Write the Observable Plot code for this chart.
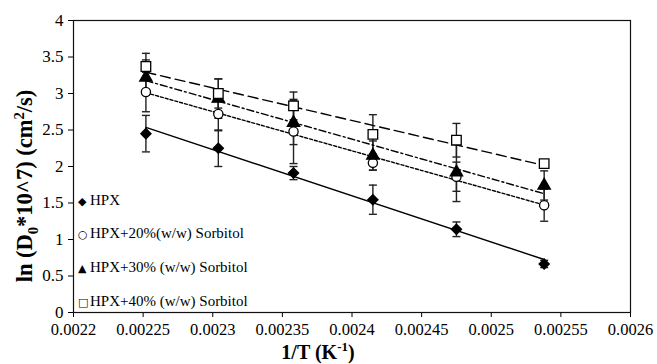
<!DOCTYPE html>
<html>
<head>
<meta charset="utf-8">
<script src="https://cdn.jsdelivr.net/npm/d3@7"></script>
<script src="https://cdn.jsdelivr.net/npm/@observablehq/plot@0.6"></script>
<style>
  html, body { margin: 0; padding: 0; background: #fff; }
  #wrap { position: relative; width: 657px; height: 364px; font-family: "Liberation Serif", "Times New Roman", serif; color: #000; }
  #legend { position: absolute; left: 78px; top: 0; font-size: 15px; }
  #legend div { position: absolute; white-space: nowrap; line-height: 1; }
  #legend .sym { display: inline-block; width: 12px; font-family: "DejaVu Sans", sans-serif; font-size: 11px; }
  #ytitle { position: absolute; left: 25px; top: 186px; transform: translate(-50%, -50%) rotate(-90deg); font-weight: bold; font-size: 22.5px; white-space: nowrap; }
  #xtitle { position: absolute; left: 318px; top: 352px; transform: translate(-50%, -50%); font-weight: bold; font-size: 20px; white-space: nowrap; }
  sub, sup { font-size: 0.65em; line-height: 0; }
</style>
</head>
<body>
<div id="wrap">
  <div id="chart"></div>
  <div id="legend"></div>
  <div id="ytitle">ln (D<sub>0</sub>*10^7) (cm<sup>2</sup>/s)</div>
  <div id="xtitle">1/T (K<sup>-1</sup>)</div>
</div>
<script>
// ---- data ----
const invT   = [0.002252, 0.002304, 0.002358, 0.002415, 0.002475, 0.002538];
const hpx    = [2.45, 2.25, 1.91, 1.545, 1.14, 0.665];
const hpxErr = [0.25, 0.25, 0.09, 0.20, 0.10, 0.05];
const s20    = [3.02, 2.72, 2.48, 2.05, 1.86, 1.47];
const s20Err = [0.27, 0.23, 0.44, 0.10, 0.20, 0.22];
const s30    = [3.22, 2.93, 2.60, 2.15, 1.92, 1.74];
const s30Err = [0.24, 0.27, 0.30, 0.20, 0.40, 0.20];
const s40    = [3.37, 3.00, 2.83, 2.44, 2.36, 2.04];
const s40Err = [0.18, 0.20, 0.19, 0.27, 0.23, 0.02];
const seriesNames = ["HPX", "HPX+20%(w/w) Sorbitol", "HPX+30% (w/w) Sorbitol", "HPX+40% (w/w) Sorbitol"];
const xTicks = [0.0022, 0.00225, 0.0023, 0.00235, 0.0024, 0.00245, 0.0025, 0.00255, 0.0026];
const yTicks = [0, 0.5, 1, 1.5, 2, 2.5, 3, 3.5, 4];

// ---- styling per series ----
const styles = [
  {symbol: "diamond2", fill: "#000", stroke: "#000", r: 4.6, dash: null, glyph: "\u25C6"},
  {symbol: "circle", fill: "#fff", stroke: "#000", r: 4.6, dash: "3,2", glyph: "\u25CB"},
  {symbol: "triangle", fill: "#000", stroke: "#000", r: 4.6, dash: "7,3,2,3", glyph: "\u25B2"},
  {symbol: "square", fill: "#fff", stroke: "#000", r: 5.4, dash: "10,5", glyph: "\u25A1"}
];
const vals = [hpx, s20, s30, s40];
const errs = [hpxErr, s20Err, s30Err, s40Err];
const series = vals.map((v, i) => invT.map((x, j) => ({x, y: v[j], e: errs[i][j], s: seriesNames[i]})));

const cap = {draw(ctx) { ctx.moveTo(-4, 0); ctx.lineTo(4, 0); }};

const marks = [];
series.forEach((d) => {
  marks.push(Plot.ruleX(d, {x: "x", y1: r => r.y - r.e, y2: r => r.y + r.e, stroke: "#222", strokeWidth: 1.4}));
  marks.push(Plot.dot(d, {x: "x", y: r => r.y - r.e, symbol: cap, stroke: "#222", strokeWidth: 1.4, r: 3}));
  marks.push(Plot.dot(d, {x: "x", y: r => r.y + r.e, symbol: cap, stroke: "#222", strokeWidth: 1.4, r: 3}));
});
series.forEach((d, i) => {
  marks.push(Plot.linearRegressionY(d, {x: "x", y: "y", ci: 0, stroke: "#000", strokeWidth: 1.4, strokeDasharray: styles[i].dash}));
});
series.forEach((d, i) => {
  const st = styles[i];
  marks.push(Plot.dot(d, {x: "x", y: "y", symbol: st.symbol, fill: st.fill, stroke: st.stroke, strokeWidth: 1.3, r: st.r}));
});

const chart = Plot.plot({
  width: 657,
  height: 364,
  marginLeft: 73,
  marginRight: 27,
  marginTop: 20,
  marginBottom: 52,
  style: {fontFamily: "'Liberation Serif', 'Times New Roman', serif", fontSize: "17px", color: "#000", background: "#fff"},
  x: {domain: [0.0022, 0.0026]},
  y: {domain: [0, 4]},
  marks: [
    Plot.axisX({ticks: xTicks, tickFormat: d => String(+d.toFixed(6)), tickSize: 5, tickPadding: 6, label: null, fontSize: 16.5}),
    Plot.axisY({ticks: yTicks, tickFormat: d => String(d), tickSize: 5, tickPadding: 5, label: null, fontSize: 17}),
    ...marks,
    Plot.frame({stroke: "#111", strokeWidth: 1.2})
  ]
});
document.getElementById("chart").appendChild(chart);

// legend (inside plot area, left)
const legendTops = [201, 234, 268, 302];
const lg = document.getElementById("legend");
seriesNames.forEach((name, i) => {
  const row = document.createElement("div");
  row.style.top = (legendTops[i] - 8) + "px";
  row.innerHTML = `<span class="sym">${styles[i].glyph}</span>${name}`;
  lg.appendChild(row);
});
</script>
</body>
</html>
